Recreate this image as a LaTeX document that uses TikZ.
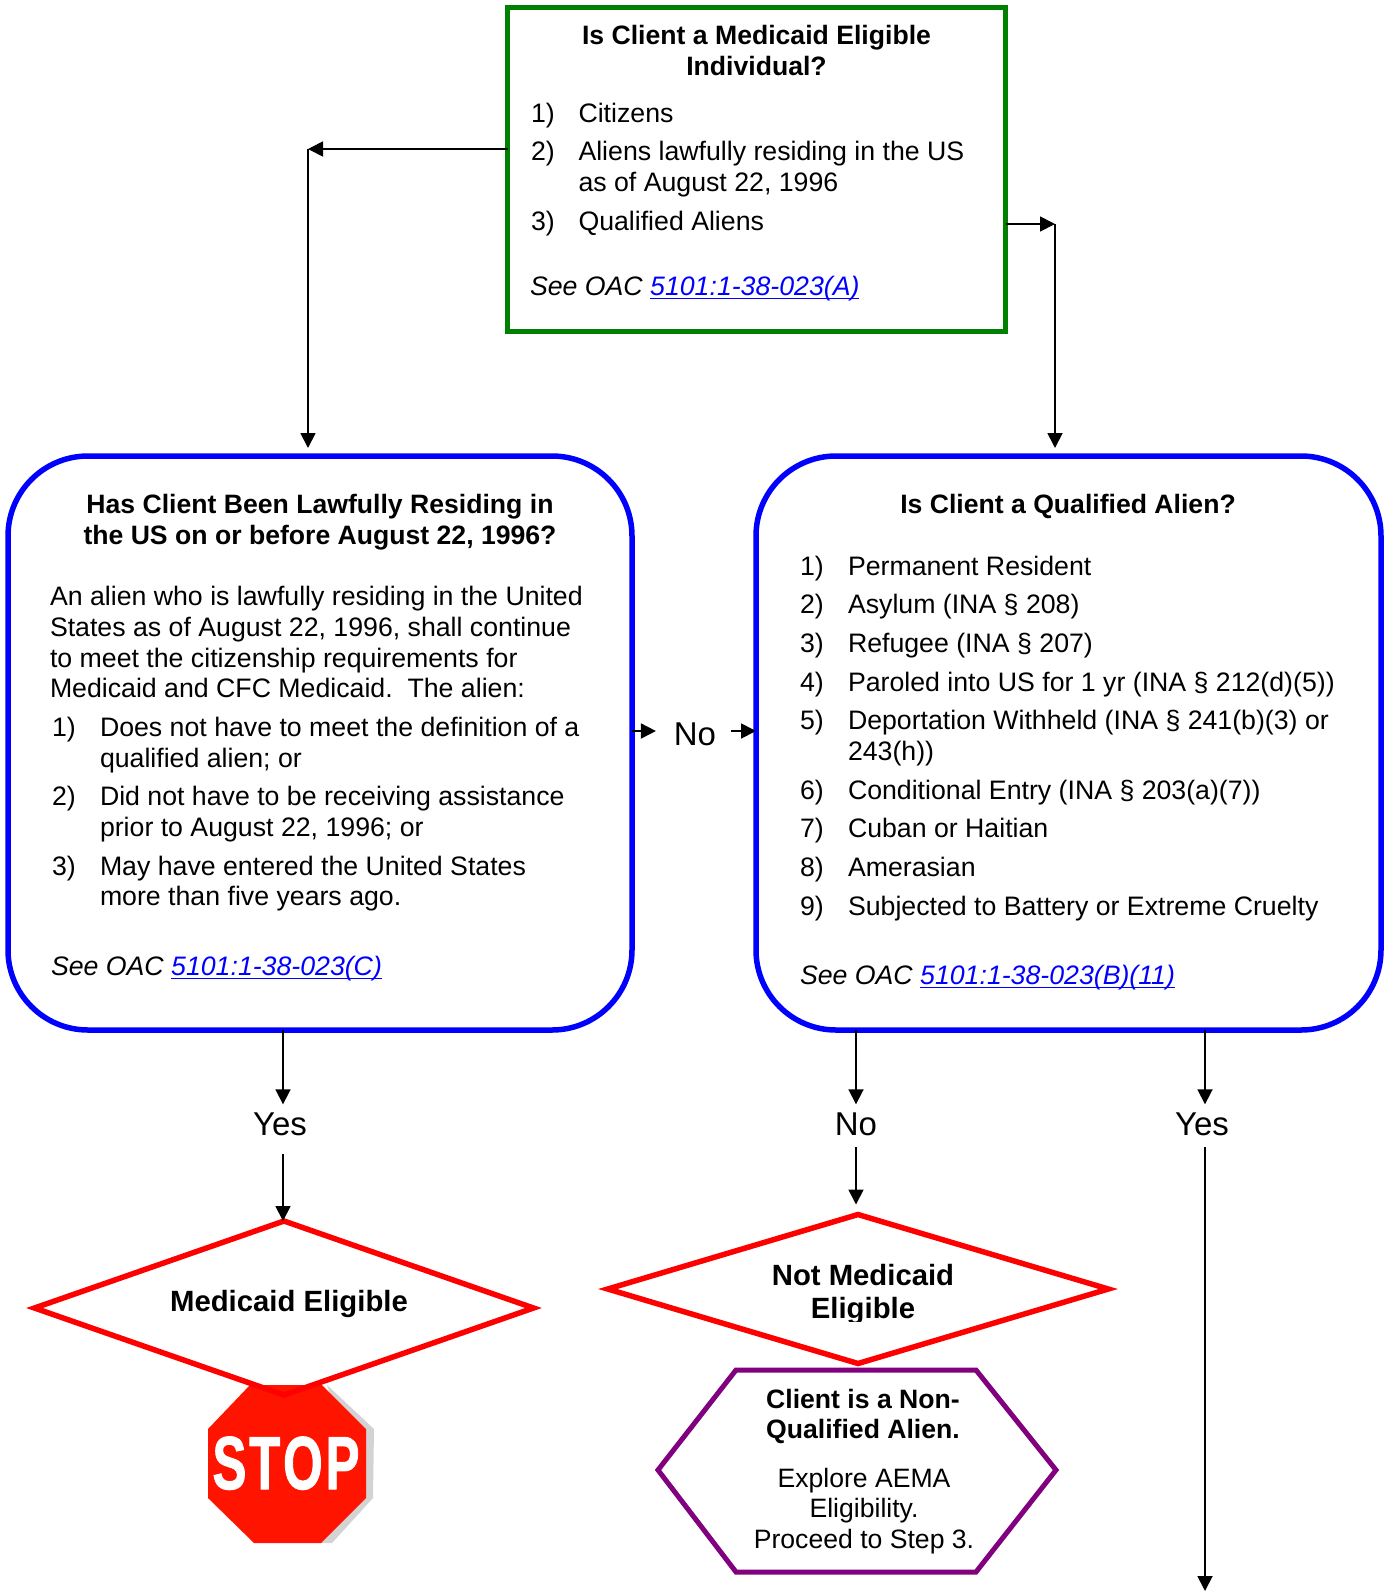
\documentclass[tikz,border=0pt]{standalone}
\usepackage{fontspec}
\setmainfont{Liberation Sans}
\newfontfamily\stopfont[FakeBold=1.5]{Liberation Sans Bold}
\usetikzlibrary{arrows.meta,shapes.geometric}
\definecolor{gbox}{HTML}{008000}
\definecolor{bbox}{HTML}{0000FF}
\definecolor{rbox}{HTML}{FF0000}
\definecolor{pbox}{HTML}{800080}
\definecolor{stopred}{HTML}{FF1400}
\definecolor{stopshadow}{HTML}{D3D3D3}
\newcommand{\lnk}[1]{\textcolor{bbox}{\sbox0{#1}\rlap{\rule[-4.4pt]{\wd0}{1.6pt}}\box0}}
\newcommand{\tln}[4]{\node[txt] (#1) at (#2,#3) {#4};}
\newcommand{\tlc}[4]{\node[ctr] (#1) at (#2,#3) {#4};}
\newcommand{\tlb}[4]{\node[ctrb] (#1) at (#2,#3) {#4};}
\tikzset{
  txt/.style={font=\fontsize{26.7}{31}\selectfont,anchor=base west,inner sep=0pt,outer sep=0pt},
  ctr/.style={font=\fontsize{26.6}{31}\selectfont,anchor=base,inner sep=0pt,outer sep=0pt},
  ctrb/.style={font=\fontsize{26.6}{31}\selectfont\bfseries,anchor=base,inner sep=0pt,outer sep=0pt},
  dbold/.style={font=\fontsize{29.3}{33}\selectfont\bfseries,anchor=base,inner sep=0pt,outer sep=0pt},
  lab/.style={font=\fontsize{33}{37}\selectfont,anchor=base,inner sep=0pt,outer sep=0pt},
  greenbox/.style={draw=gbox,line width=5pt,inner sep=0pt,outer sep=0pt},
  bluebox/.style={draw=bbox,line width=5.5pt,rounded corners=80pt,inner sep=0pt,outer sep=0pt},
  reddiam/.style={diamond,draw=rbox,line width=5.5pt,inner sep=0pt,outer sep=0pt},
  conn/.style={draw=black,line width=1.8pt},
  arr/.style={conn,-{Triangle[length=15pt,width=15pt]}},
}
\begin{document}
\begin{tikzpicture}[x=1pt,y=-1pt]
\useasboundingbox (0,0) rectangle (1389,1591);
% boxes
\node[greenbox,minimum width=498pt,minimum height=324pt] (green) at (756.5,169) {};
\node[bluebox,minimum width=624pt,minimum height=574pt] (leftbox) at (320,743) {};
\node[bluebox,minimum width=625pt,minimum height=574pt] (rightbox) at (1068.5,743) {};
% green text
\tlb{g1}{756.5}{44}{Is Client a Medicaid Eligible}
\tlb{g2}{756.5}{75}{Individual?}
\tln{g3}{531}{122}{1)}\tln{g3b}{578.5}{122}{Citizens}
\tln{g4}{531}{160}{2)}\tln{g4b}{578.5}{160}{Aliens lawfully residing in the US}
\tln{g5}{578.5}{191}{as of August 22, 1996}
\tln{g6}{531}{230}{3)}\tln{g6b}{578.5}{230}{Qualified Aliens}
\tln{g7}{530}{295}{\itshape See OAC \lnk{5101:1-38-023(A)}}
% left text
\tlb{l1}{320}{513}{Has Client Been Lawfully Residing in}
\tlb{l2}{320}{544}{the US on or before August 22, 1996?}
\tln{l3}{50}{605}{An alien who is lawfully residing in the United}
\tln{l4}{50}{636}{States as of August 22, 1996, shall continue}
\tln{l5}{50}{667}{to meet the citizenship requirements for}
\tln{l6}{50}{697}{Medicaid and CFC Medicaid.\ \ The alien:}
\tln{l7}{52}{736}{1)}\tln{l7b}{100}{736}{Does not have to meet the definition of a}
\tln{l8}{100}{767}{qualified alien; or}
\tln{l9}{52}{805}{2)}\tln{l9b}{100}{805}{Did not have to be receiving assistance}
\tln{l10}{100}{836}{prior to August 22, 1996; or}
\tln{l11}{52}{875}{3)}\tln{l11b}{100}{875}{May have entered the United States}
\tln{l12}{100}{905}{more than five years ago.}
\tln{l13}{51}{975}{\itshape See OAC \lnk{5101:1-38-023(C)}}
% right text
\tlb{r1}{1068}{513}{Is Client a Qualified Alien?}
\tln{r2}{800}{575}{1)}\tln{r2b}{848}{575}{Permanent Resident}
\tln{r3}{800}{613}{2)}\tln{r3b}{848}{613}{Asylum (INA § 208)}
\tln{r4}{800}{652}{3)}\tln{r4b}{848}{652}{Refugee (INA § 207)}
\tln{r5}{800}{691}{4)}\tln{r5b}{848}{691}{Paroled into US for 1 yr (INA § 212(d)(5))}
\tln{r6}{800}{729}{5)}\tln{r6b}{848}{729}{Deportation Withheld (INA § 241(b)(3) or}
\tln{r7}{848}{760}{243(h))}
\tln{r8}{800}{799}{6)}\tln{r8b}{848}{799}{Conditional Entry (INA § 203(a)(7))}
\tln{r9}{800}{837}{7)}\tln{r9b}{848}{837}{Cuban or Haitian}
\tln{r10}{800}{876}{8)}\tln{r10b}{848}{876}{Amerasian}
\tln{r11}{800}{915}{9)}\tln{r11b}{848}{915}{Subjected to Battery or Extreme Cruelty}
\tln{r12}{800}{984}{\itshape See OAC \lnk{5101:1-38-023(B)(11)}}
% connector labels
\node[lab] (nomid) at (695,745.5) {No};
\node[lab] (yesl) at (280,1135) {Yes};
\node[lab] (nor) at (856,1135) {No};
\node[lab] (yesr) at (1202,1135) {Yes};
% stop sign
\fill[stopshadow] (327,1385) -- (374,1429) -- (373,1498) -- (332,1543) -- (321,1543) -- (366,1498) -- cycle;
\fill[stopred] (250,1385) -- (322,1385) -- (366,1429) -- (366,1498) -- (321,1543) -- (254,1543) -- (208,1498) -- (208,1429) -- cycle;
% diamonds
\node[reddiam,minimum width=499pt,minimum height=174pt,shape aspect=2.9] (dleft) at (284,1308) {};
\node[reddiam,minimum width=500.5pt,minimum height=149pt,shape aspect=3.35] (dright) at (858,1289) {};
\node[font=\stopfont\fontsize{75}{75}\selectfont,text=white,anchor=base,xscale=.68,transform shape,inner sep=0pt] (stoptxt) at (286,1489) {S\kern4pt T\kern4pt O\kern4pt P};
\node[dbold] (d1) at (289,1311) {Medicaid Eligible};
\begin{scope}
\clip (700,1250) rectangle (1020,1321);
\node[dbold] (d2) at (863,1285) {Not Medicaid};
\node[dbold] (d3) at (863,1318) {Eligible};
\end{scope}
% hexagon
\draw[pbox,line width=5pt,line join=miter] (736,1370) -- (976,1370) -- (1056,1470) -- (976,1572) -- (736,1572) -- (658,1470) -- cycle;
\tlb{h1}{863}{1408}{Client is a Non-}
\tlb{h2}{863}{1438}{Qualified Alien.}
\tlc{h3}{864}{1487}{Explore AEMA}
\tlc{h4}{864}{1517}{Eligibility.}
\tlc{h5}{864}{1548}{Proceed to Step 3.}
% connectors
\coordinate (tl) at (308,149);
\coordinate (tr) at (1055,224);
\coordinate (midy) at (0,731);
\coordinate (xl) at (283,0);
\coordinate (xn) at (856,0);
\coordinate (xy) at (1205,0);
\coordinate (bottom) at (1205,1591);
\draw[arr] (green.west |- tl) -- (tl);
\draw[arr,shorten >=8pt] (tl) -- (tl |- leftbox.north);
\draw[arr] (green.east |- tr) -- (tr);
\draw[arr,shorten >=8pt] (tr) -- (tr |- rightbox.north);
\draw[arr,shorten >=18pt] (leftbox.east |- midy) -- (nomid.west |- midy);
\draw[arr] ([xshift=15pt]nomid.east |- midy) -- (rightbox.west |- midy);
\draw[arr,shorten >=8pt] (xl |- leftbox.south) -- (xl |- yesl.north);
\draw[arr] ([yshift=-19pt]xl |- yesl.base) -- (xl |- dleft.north);
\draw[arr,shorten >=8pt] (xn |- rightbox.south) -- (xn |- nor.north);
\draw[arr,shorten >=10pt] ([yshift=-12pt]xn |- nor.base) -- (xn |- dright.north);
\draw[arr,shorten >=8pt] (xy |- rightbox.south) -- (xy |- yesr.north);
\draw[arr] ([yshift=-12pt]xy |- yesr.base) -- (bottom);
\end{tikzpicture}
\end{document}
